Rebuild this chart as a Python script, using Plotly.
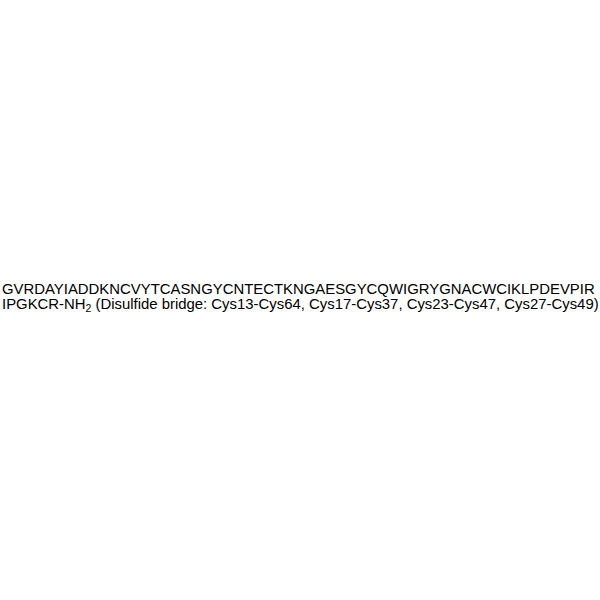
import plotly.graph_objs as go

# texto de la secuencia (dos lineas, como en la imagen)
linea_1 = "GVRDAYIADDKNCVYTCASNGYCNTECTKNGAESGYCQWIGRYGNACWCIKLPDEVPIR"
linea_2 = "IPGKCR-NH<sub>2</sub> (Disulfide bridge: Cys13-Cys64, Cys17-Cys37, Cys23-Cys47, Cys27-Cys49)"
lineas = [linea_1, linea_2]
posiciones_y = [289, 305]  # centro de cada linea en px desde arriba

fig = go.Figure()
for texto, y_px in zip(lineas, posiciones_y):
    fig.add_annotation(
        text=texto,
        xref="paper", yref="paper",
        x=0, y=1 - y_px / 600,
        xanchor="left", yanchor="middle",
        showarrow=False,
        font=dict(family="Liberation Sans, Arial", size=14.9, color="black"),
    )

fig.update_layout(
    width=600, height=600,
    margin=dict(l=0, r=0, t=0, b=0),
    paper_bgcolor="white", plot_bgcolor="white",
    xaxis=dict(visible=False), yaxis=dict(visible=False),
    showlegend=False,
)
# quitar el margen del body para que la figura quede en (0,0), sin barra de herramientas
fig.write_html("out.html", config={"displayModeBar": False},
               post_script="document.body.style.margin='0';")
